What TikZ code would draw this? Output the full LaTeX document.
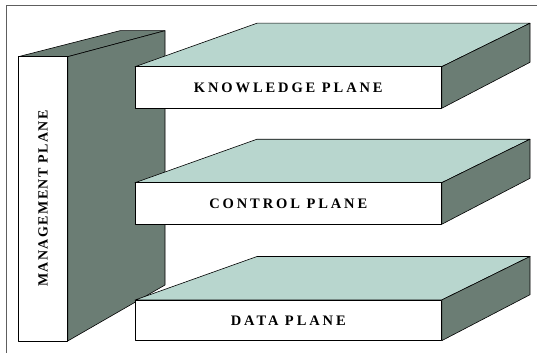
\documentclass[tikz,border=0pt]{standalone}
\usepackage{fontspec}
\setmainfont{Liberation Serif}
\newfontfamily\planefont[LetterSpace=20]{Liberation Serif}
\newfontfamily\mgmtfont[LetterSpace=10]{Liberation Serif}
\usetikzlibrary{positioning}
\definecolor{sidegrey}{HTML}{6B7D74}
\definecolor{topteal}{HTML}{B8D6CE}
\definecolor{framegrey}{HTML}{5E5E5E}

\begin{document}
\begin{tikzpicture}[x=1pt,y=-1pt,
  face/.style={draw=black, line width=0.6pt, line join=round},
  planetext/.style={font=\planefont\bfseries\fontsize{14.5}{16}\selectfont}]
\useasboundingbox (0,0) rectangle (537,353);
\draw[draw=framegrey, line width=1pt] (537,5.5) -- (6,5.5) -- (6,353);
% management plane
\draw[face, fill=sidegrey] (18.3,56.7) -- (120,30.7) -- (165,30.7) -- (67.7,56.7) -- cycle;
\draw[face, fill=sidegrey] (67.7,56.7) -- (165,30.7) -- (165,285) -- (67.7,341) -- cycle;
\draw[face, fill=white] (18.3,56.7) rectangle (67.7,341);
\node[rotate=90, font=\mgmtfont\bfseries\fontsize{14}{16}\selectfont] (mgmt) at (43,198.5) {MANAGEMENT PLANE};
% knowledge plane
\draw[face, fill=topteal] (135,66.7) -- (257,23.2) -- (530,23.2) -- (441.7,66.7) -- cycle;
\draw[face, fill=sidegrey] (441.7,66.7) -- (530,23.2) -- (530,62.3) -- (441.7,108.3) -- cycle;
\draw[face, fill=white] (135,66.7) rectangle (441.7,108.3);
\node[planetext] (know) at (288.3,87.5) {KNOWLEDGE PLANE};
% control plane
\draw[face, fill=topteal] (135,182.7) -- (257,139.2) -- (530,139.2) -- (441.7,182.7) -- cycle;
\draw[face, fill=sidegrey] (441.7,182.7) -- (530,139.2) -- (530,178.3) -- (441.7,224.3) -- cycle;
\draw[face, fill=white] (135,182.7) rectangle (441.7,224.3);
\node[planetext] (ctrl) at (288.3,203.5) {CONTROL PLANE};
% data plane
\draw[face, fill=topteal] (135,300) -- (257,256.5) -- (530,256.5) -- (441.7,300) -- cycle;
\draw[face, fill=sidegrey] (441.7,300) -- (530,256.5) -- (530,294.7) -- (441.7,340.7) -- cycle;
\draw[face, fill=white] (135,300) rectangle (441.7,340.7);
\node[planetext] (data) at (288.3,320.4) {DATA PLANE};
\end{tikzpicture}
\end{document}
